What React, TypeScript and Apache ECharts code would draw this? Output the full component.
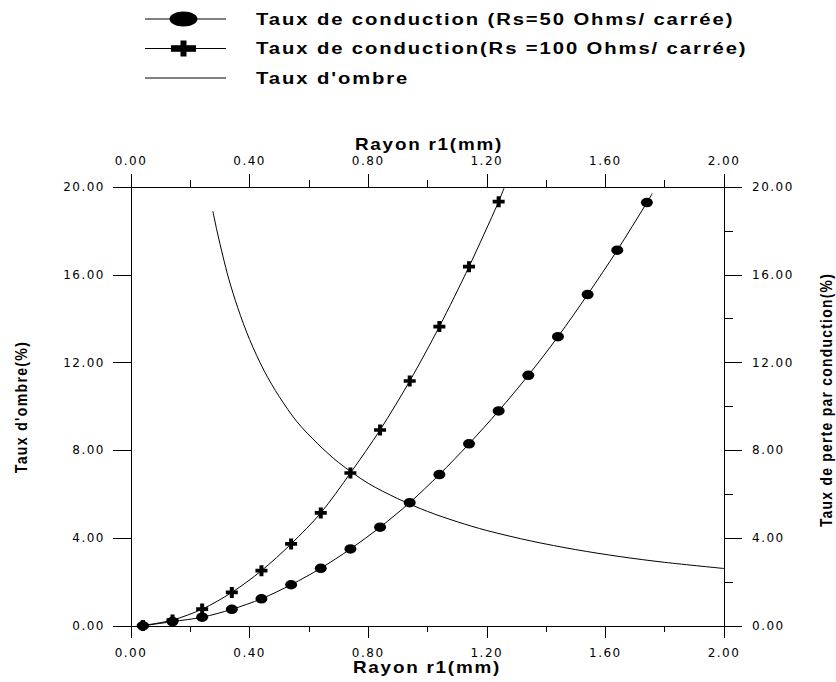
import React, { useEffect, useRef } from 'react';
import * as echarts from 'echarts';

// Rs = 50 Ohms/carrée (circles)
const rayon50 = [0.04, 0.14, 0.24, 0.34, 0.44, 0.54, 0.64, 0.74, 0.84, 0.94, 1.04, 1.14, 1.24, 1.34, 1.44, 1.54, 1.64, 1.74];
const conduction50 = [0.01, 0.2, 0.4, 0.76, 1.24, 1.88, 2.63, 3.51, 4.5, 5.62, 6.9, 8.3, 9.8, 11.42, 13.18, 15.1, 17.12, 19.29];
const curveEnd50 = [1.758, 19.71];

// Rs = 100 Ohms/carrée (plus)
const rayon100 = [0.04, 0.14, 0.24, 0.34, 0.44, 0.54, 0.64, 0.74, 0.84, 0.94, 1.04, 1.14, 1.24];
const conduction100 = [0.02, 0.27, 0.77, 1.53, 2.52, 3.74, 5.15, 6.97, 8.93, 11.16, 13.64, 16.37, 19.33];
const curveEnd100 = [1.258, 19.95];

// Taux d'ombre (plain line)
const rayonOmbre = [0.276, 0.29, 0.31, 0.33, 0.36, 0.4, 0.45, 0.5, 0.56, 0.63, 0.7, 0.8, 0.9, 1.0, 1.1, 1.2, 1.35, 1.5, 1.65, 1.8, 2.0];
const tauxOmbre = [18.9, 18.0, 16.85, 15.8, 14.5, 13.05, 11.6, 10.45, 9.3, 8.3, 7.45, 6.5, 5.8, 5.22, 4.75, 4.35, 3.87, 3.48, 3.16, 2.9, 2.62];

const legendLabels = [
  'Taux de conduction (Rs=50 Ohms/ carrée)',
  'Taux de conduction(Rs =100 Ohms/ carrée)',
  "Taux d'ombre",
];
const xAxisTitle = 'Rayon r1(mm)';
const leftAxisTitle = "Taux d'ombre(%)";
const rightAxisTitle = 'Taux de perte par conduction(%)';

const ELLIPSE = 'path://M0 5A5 5 0 1 0 10 5A5 5 0 1 0 0 5Z';
const PLUS = 'path://M4 0H8V4H12V8H8V12H4V8H0V4H4Z';

const fmt = (v: number) => v.toFixed(2);

export default function App() {
  const ref = useRef<HTMLDivElement>(null);
  useEffect(() => {
    document.body.style.margin = '0';
    const chart = echarts.init(ref.current!, null, { renderer: 'svg' });
    const tickLabel = { color: '#000', fontFamily: 'DejaVu Sans', fontSize: 12, formatter: fmt };
    const axisLine = { show: true, onZero: false, lineStyle: { color: '#000', width: 1 } };
    const titleFont = { fontFamily: 'Liberation Sans', fontWeight: 'bold', fill: '#000' };
    const legendRows = [19, 48.5, 78];

    const pts = (xs: number[], ys: number[]) => xs.map((x, i) => [x, ys[i]]);

    chart.setOption({
      animation: false,
      backgroundColor: '#fff',
      grid: { left: 131, right: 112, top: 187, bottom: 56, containLabel: false },
      xAxis: [
        {
          type: 'value', position: 'bottom', min: 0, max: 2, interval: 0.4,
          axisLine, axisTick: { show: true, length: 12, lineStyle: { color: '#000' } },
          minorTick: { show: true, splitNumber: 2, length: 6, lineStyle: { color: '#000' } },
          splitLine: { show: false }, axisLabel: { ...tickLabel, margin: 21 },
        },
        {
          type: 'value', position: 'top', min: 0, max: 2, interval: 0.4,
          axisLine, axisTick: { show: true, length: 13, lineStyle: { color: '#000' } },
          minorTick: { show: true, splitNumber: 2, length: 7, lineStyle: { color: '#000' } },
          splitLine: { show: false }, axisLabel: { ...tickLabel, margin: 20 },
        },
      ],
      yAxis: [
        {
          type: 'value', position: 'left', min: 0, max: 20, interval: 4,
          axisLine, axisTick: { show: true, length: 18, lineStyle: { color: '#000' } },
          splitLine: { show: false }, axisLabel: { ...tickLabel, margin: 26 },
        },
        {
          type: 'value', position: 'right', min: 0, max: 20, interval: 4,
          axisLine, axisTick: { show: true, length: 18, lineStyle: { color: '#000' } },
          minorTick: { show: true, splitNumber: 2, length: 9, lineStyle: { color: '#000' } },
          splitLine: { show: false }, axisLabel: { ...tickLabel, margin: 28 },
        },
      ],
      series: [
        {
          name: legendLabels[0], type: 'line', xAxisIndex: 0, yAxisIndex: 1, smooth: 0.3,
          symbol: ELLIPSE, symbolSize: [12, 9.5], showSymbol: true,
          lineStyle: { color: '#000', width: 1 }, itemStyle: { color: '#000' },
          data: [...pts(rayon50, conduction50), { value: curveEnd50, symbol: 'none' }],
        },
        {
          name: legendLabels[1], type: 'line', xAxisIndex: 0, yAxisIndex: 1, smooth: 0.3,
          symbol: PLUS, symbolSize: [12, 11], showSymbol: true,
          lineStyle: { color: '#000', width: 1 }, itemStyle: { color: '#000' },
          data: [...pts(rayon100, conduction100), { value: curveEnd100, symbol: 'none' }],
        },
        {
          name: legendLabels[2], type: 'line', xAxisIndex: 0, yAxisIndex: 0, smooth: 0.3,
          symbol: 'none', lineStyle: { color: '#000', width: 1 },
          data: pts(rayonOmbre, tauxOmbre),
        },
      ],
      graphic: [
        // legend lines
        ...legendRows.map((y) => ({ type: 'line', shape: { x1: 145, y1: y, x2: 226, y2: y }, style: { stroke: '#000', lineWidth: 1 } })),
        { type: 'ellipse', shape: { cx: 183.5, cy: legendRows[0], rx: 14, ry: 7.5 }, style: { fill: '#000' } },
        { type: 'rect', shape: { x: 171, y: legendRows[1] - 3.3, width: 25, height: 6.6 }, style: { fill: '#000' } },
        { type: 'rect', shape: { x: 180.5, y: legendRows[1] - 8, width: 6, height: 16 }, style: { fill: '#000' } },
        ...legendLabels.map((t, i) => ({
          type: 'text', x: 256, y: legendRows[i], scaleX: 1.266,
          style: { text: t, fontSize: 16, ...titleFont, align: 'left', verticalAlign: 'middle' },
        })),
        // axis titles
        {
          type: 'text', x: 429, y: 145, scaleX: 1.18,
          style: { text: xAxisTitle, fontSize: 16, ...titleFont, align: 'center', verticalAlign: 'middle' },
        },
        {
          type: 'text', x: 427, y: 668, scaleX: 1.18,
          style: { text: xAxisTitle, fontSize: 16, ...titleFont, align: 'center', verticalAlign: 'middle' },
        },
        {
          type: 'text', x: 21, y: 407, rotation: Math.PI / 2, scaleX: 0.88,
          style: { text: leftAxisTitle, fontSize: 16, ...titleFont, align: 'center', verticalAlign: 'middle' },
        },
        {
          type: 'text', x: 826, y: 400, rotation: Math.PI / 2, scaleX: 0.865,
          style: { text: rightAxisTitle, fontSize: 16, ...titleFont, align: 'center', verticalAlign: 'middle' },
        },
      ],
    });
    return () => chart.dispose();
  }, []);

  return (
    <div
      ref={ref}
      style={{ position: 'absolute', left: 0, top: 0, width: 836, height: 682, letterSpacing: '1.5px', background: '#fff' }}
    />
  );
}
